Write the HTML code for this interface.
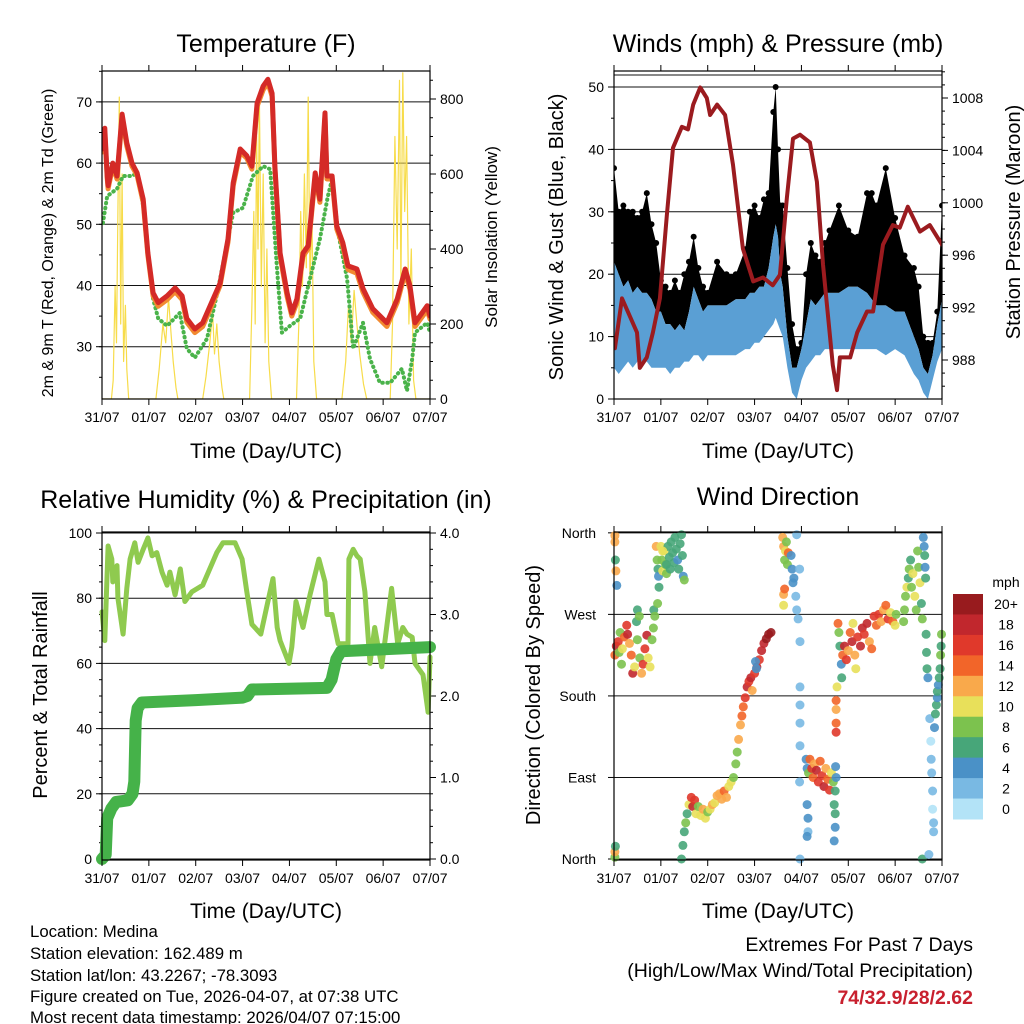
<!DOCTYPE html>
<html><head><meta charset="utf-8"><style>
body{margin:0;background:#fff}
svg{display:block;font-family:"Liberation Sans",Arial,sans-serif}
</style></head><body>
<svg id="c" width="1024" height="1024" viewBox="0 0 1024 1024" xmlns="http://www.w3.org/2000/svg">
<rect width="1024" height="1024" fill="#fff"/>
<text x="266" y="52" font-size="25" text-anchor="middle">Temperature (F)</text>
<text x="778" y="52" font-size="25" text-anchor="middle">Winds (mph) &amp; Pressure (mb)</text>
<text x="266" y="508" font-size="25" text-anchor="middle">Relative Humidity (%) &amp; Precipitation (in)</text>
<text x="778" y="505" font-size="25" text-anchor="middle">Wind Direction</text>
<text x="266" y="458" font-size="21" text-anchor="middle">Time (Day/UTC)</text>
<text x="778" y="458" font-size="21" text-anchor="middle">Time (Day/UTC)</text>
<text x="266" y="918" font-size="21" text-anchor="middle">Time (Day/UTC)</text>
<text x="778" y="918" font-size="21" text-anchor="middle">Time (Day/UTC)</text>
<text transform="translate(53,243) rotate(-90)" font-size="16" text-anchor="middle">2m &amp; 9m T (Red, Orange) &amp; 2m Td (Green)</text>
<text transform="translate(497,237) rotate(-90)" font-size="17" text-anchor="middle">Solar Insolation (Yellow)</text>
<text transform="translate(563,237) rotate(-90)" font-size="20" text-anchor="middle">Sonic Wind &amp; Gust (Blue, Black)</text>
<text transform="translate(1020,222) rotate(-90)" font-size="20" text-anchor="middle">Station Pressure (Maroon)</text>
<text transform="translate(47,695) rotate(-90)" font-size="20" text-anchor="middle">Percent &amp; Total Rainfall</text>
<text transform="translate(540,695) rotate(-90)" font-size="20" text-anchor="middle">Direction (Colored By Speed)</text>
<g font-size="16.8">
<text x="30" y="937">Location: Medina</text>
<text x="30" y="959">Station elevation: 162.489 m</text>
<text x="30" y="981">Station lat/lon: 43.2267; -78.3093</text>
<text x="30" y="1002">Figure created on Tue, 2026-04-07, at 07:38 UTC</text>
<text x="30" y="1023">Most recent data timestamp: 2026/04/07 07:15:00</text>
</g>
<g font-size="19.5" text-anchor="end">
<text x="973" y="951">Extremes For Past 7 Days</text>
<text x="973" y="977">(High/Low/Max Wind/Total Precipitation)</text>
<text x="973" y="1004" fill="#c8202e" font-weight="bold">74/32.9/28/2.62</text>
</g>
</svg>
<script>
const dayLabels=["31/07","01/07","02/07","03/07","04/07","05/07","06/07","07/07"];
const tempTicks=[30,40,50,60,70];
const solarTicks=[0,200,400,600,800];
const windTicks=[0,10,20,30,40,50];
const presTicks=[988,992,996,1000,1004,1008];
const rhTicks=[0,20,40,60,80,100];
const rainTicks=[0,1,2,3,4];
const dirTicks=[0,90,180,270,360];
const dirNames=["North","East","South","West","North"];
const speedLabels=["20+","18","16","14","12","10","8","6","4","2","0"];

const redT=[0,0.06,0.11,0.13,0.23,0.32,0.43,0.53,0.64,0.75,0.88,0.98,1.09,1.2,1.39,1.56,1.71,1.81,1.98,2.15,2.37,2.52,2.69,2.8,2.95,3.09,3.2,3.31,3.44,3.54,3.63,3.69,3.8,3.95,4.05,4.16,4.29,4.4,4.55,4.65,4.76,4.8,4.91,5.01,5.14,5.25,5.44,5.57,5.78,6.08,6.3,6.47,6.57,6.68,6.94,7.0];
const redV=[62.3,65.7,57.9,56.3,60,57.9,68,63.3,60,58.4,54.1,45.3,38.8,37.2,38.3,39.6,38.3,34.6,32.9,33.9,37.8,40.4,47.6,56.8,62.3,61.2,59.5,69.8,72.6,73.7,71.4,59.5,45.3,38.8,35.5,37.8,45.3,46.5,58.4,54.1,68.2,57.9,57.9,49.7,47,43.2,42.7,39.5,36.2,33.9,37.8,42.7,40,33.9,36.7,35];
const orangeV=[61.8,65,57.5,55.8,59.5,57.4,67.5,62.8,59.5,58,53.6,44.9,38.3,36.6,37.7,39,37.7,34,32.3,33.3,37.2,40,47.1,56.3,61.8,60.8,59,69.3,72,73.1,70.9,59,44.8,38.2,35,37.2,44.8,46,57.9,53.6,67.5,57.4,57.4,49.2,46.5,42.6,42,38.9,35.6,33.3,37.2,42.1,39.4,33.3,36,34.5];
const dewT=[0.02,0.11,0.32,0.45,0.64,0.75,0.88,0.98,1.09,1.2,1.39,1.66,1.81,1.98,2.24,2.48,2.67,2.8,3.01,3.22,3.44,3.59,3.73,3.84,4.01,4.23,4.44,4.65,4.82,4.91,5.04,5.23,5.36,5.57,5.72,5.93,6.15,6.4,6.51,6.62,6.68,6.94,7.0];
const dewV=[50.2,54.6,55.8,57.9,57.9,58.4,53,45.3,37.8,34.6,33.4,35.5,29.7,28.2,31.3,39.5,47,51.9,52.7,57.9,59.5,59,43.2,32.3,33.4,34.6,41.1,47.6,54.6,57.4,48.6,41.1,29.7,33.9,28,24.1,24.1,26.4,22.8,28,32.3,33.9,32.3];
const solarT=[0,0.2,0.24,0.28,0.31,0.34,0.37,0.4,0.43,0.46,0.5,0.53,0.57,1.15,1.22,1.3,1.36,1.42,1.47,1.52,1.58,1.62,2.15,2.22,2.3,2.36,2.4,2.45,2.5,2.56,2.6,3.15,3.2,3.24,3.27,3.3,3.33,3.36,3.4,3.44,3.48,3.52,3.56,3.62,4.15,4.2,4.24,4.28,4.32,4.36,4.4,4.44,4.48,4.52,4.58,5.12,5.2,5.26,5.32,5.38,5.44,5.5,5.58,5.65,6.15,6.2,6.25,6.3,6.35,6.38,6.42,6.46,6.5,6.55,6.6,6.65,6.7,7.0];
const solarV=[0,0,50,300,150,500,805,200,600,100,250,80,0,0,80,200,150,270,180,100,30,0,0,60,150,230,120,200,100,30,0,0,250,500,200,700,400,800,300,600,150,400,100,0,0,200,500,300,600,350,805,300,500,100,0,0,100,250,150,290,200,120,40,0,0,200,700,400,850,300,870,500,700,200,400,50,0,0];

const windT=[0,0.1,0.2,0.3,0.4,0.5,0.6,0.7,0.8,0.9,1.0,1.1,1.2,1.3,1.4,1.5,1.6,1.7,1.8,1.9,2.0,2.2,2.4,2.6,2.8,2.9,3.0,3.1,3.2,3.3,3.4,3.45,3.5,3.55,3.6,3.7,3.8,3.9,4.0,4.1,4.2,4.3,4.4,4.5,4.6,4.8,5.0,5.2,5.4,5.5,5.6,5.8,6.0,6.2,6.4,6.5,6.6,6.7,6.8,6.9,7.0];
const windLo=[5,4,5,6,5,6,6,6,5,5,5,5,4,5,5,6,6,7,7,6,7,7,7,7,8,8,9,9,10,11,12,13,12,11,10,5,1,0,3,5,6,7,7,8,8,8,8,8,8,8,8,7,8,7,4,3,1,0,3,6,8];
const windHi=[22,20,18,19,17,18,17,17,16,14,14,12,12,11,12,11,14,18,16,14,15,15,15,16,16,17,17,18,18,21,26,28,26,20,18,10,5,5,8,12,16,15,16,17,17,17,18,18,17,16,15,15,14,14,10,8,5,4,7,12,16];
const gustV=[37,30,31,30,30,29,30,33,28,25,19,18,17,19,17,20,22,26,21,18,17,22,20,20,24,30,31,29,32,33,46,50,40,31,31,21,12,8,9,20,25,23,22,25,27,31,27,26,33,33,31,37,29,23,21,18,10,9,9,14,31];
const presT=[0.02,0.17,0.49,0.55,0.7,0.83,0.98,1.13,1.26,1.45,1.58,1.69,1.84,1.98,2.05,2.2,2.37,2.54,2.75,2.97,3.18,3.39,3.54,3.69,3.82,3.97,4.18,4.33,4.46,4.67,4.76,4.82,5.04,5.19,5.4,5.53,5.74,5.95,6.1,6.27,6.53,6.74,7.0];
const presV=[988.9,992.7,990.1,987.4,988.2,990.1,992.7,999.1,1004.2,1005.8,1005.6,1007.5,1008.8,1008,1006.7,1007.5,1006.7,1002.9,996.5,994,994.3,993.7,994.5,1000.4,1004.9,1005.2,1004.6,1001.6,995.3,987.6,985.7,988.2,988.2,990.1,991.7,991.7,996.8,998.3,998.1,999.7,997.8,998.3,996.8];

const rhT=[0,0.06,0.13,0.21,0.23,0.32,0.34,0.45,0.53,0.6,0.7,0.77,0.88,0.98,1.07,1.17,1.28,1.39,1.45,1.56,1.67,1.77,1.92,2.15,2.45,2.58,2.84,2.99,3.09,3.2,3.39,3.54,3.65,3.74,3.8,3.99,4.05,4.14,4.29,4.44,4.63,4.76,4.8,4.91,5.04,5.25,5.27,5.36,5.44,5.51,5.61,5.72,5.82,5.97,6.18,6.31,6.42,6.51,6.62,6.68,6.85,6.96,7.0];
const rhV=[75.8,67,96,92,85,90,80,69,83,92,97,91,95,98.5,93,94,88,84,88,81,89,79,82,84,94,97,97,92,82,72,69,79,86,71,67,60,65,79,71,81,92,85,75,75,66,66,92,95,93,92,82,60,71,59,83,66,71,69,68,60,56.5,45,62,94,93,90,95];
const rainT=[0,0.08,0.11,0.2,0.3,0.55,0.65,0.69,0.72,0.76,0.85,2.0,3.0,3.1,3.2,4.8,4.9,5.0,5.1,7.0];
const rainV=[0,0.05,0.5,0.62,0.7,0.72,0.8,0.95,1.7,1.85,1.92,1.95,1.98,2.0,2.08,2.1,2.2,2.45,2.55,2.6];

const dirT=[0.02,0.02,0.03,0.04,0.06,0.02,0.02,0.03,
0.02,0.05,0.09,0.11,0.13,0.16,0.18,0.22,0.27,0.29,0.33,0.37,0.4,0.44,0.48,0.5,0.55,0.59,0.62,0.66,0.7,0.73,0.77,0.81,0.84,0.85,0.87,0.5,0.54,
0.9,0.92,0.94,0.95,0.96,0.93,1.0,1.02,1.04,1.07,1.1,1.12,1.15,1.18,1.2,1.22,1.25,1.28,1.3,1.33,1.36,1.38,1.41,1.44,1.46,1.48,1.5,1.04,1.12,
1.44,1.47,1.5,1.53,1.56,1.6,1.65,1.68,1.72,1.75,1.8,1.85,1.9,1.95,2.0,2.05,2.1,2.15,2.2,2.25,2.3,2.35,2.4,2.45,2.5,2.55,2.6,2.63,2.66,2.7,2.73,2.76,2.8,2.84,2.88,2.92,2.95,3.0,3.05,3.1,3.15,3.2,3.25,3.3,3.35,3.02,3.04,
3.6,3.62,3.64,3.66,3.68,3.7,3.72,3.62,3.64,3.62,3.78,3.8,3.82,3.84,3.88,3.9,3.9,3.93,3.96,
3.97,3.97,3.97,3.97,3.96,3.97,3.97,
4.1,4.12,4.15,4.18,4.22,4.25,4.28,4.32,4.36,4.4,4.44,4.48,4.52,4.56,4.6,4.64,4.68,4.72,4.73,4.74,4.7,4.72,4.72,4.7,4.12,4.14,4.14,4.12,4.74,4.74,4.74,4.74,4.76,
4.78,4.8,4.82,4.85,4.86,4.88,4.92,4.96,5.0,5.04,5.08,5.14,5.2,5.26,5.3,5.34,5.4,5.45,5.5,5.55,5.6,5.65,5.7,5.75,5.8,5.85,5.9,5.95,6.0,6.02,5.1,5.16,
6.18,6.2,6.22,6.25,6.28,6.3,6.33,6.35,6.38,6.42,6.45,6.48,6.5,6.53,6.56,6.58,
6.6,6.62,6.63,6.64,6.65,6.66,6.67,6.68,6.7,6.58,6.72,6.74,6.76,6.77,6.78,6.8,6.8,6.82,6.82,6.84,6.86,6.88,6.9,6.9,6.92,6.94,6.96,6.97,6.98,6.99];
const dirD=[357,350,330,318,302,2,8,14,
225,235,240,228,250,215,232,245,258,248,238,225,205,212,262,242,222,205,215,232,247,222,212,242,255,275,268,275,268,
345,330,320,312,300,282,345,330,318,340,325,315,345,333,320,350,338,327,355,342,330,320,348,358,335,312,308,340,325,
0,15,30,40,50,60,68,58,65,50,58,48,55,45,52,55,60,62,70,72,66,75,68,80,85,90,105,118,132,148,158,168,178,190,196,200,186,205,212,220,230,238,243,248,250,218,210,
355,345,330,340,350,325,338,292,298,280,335,320,305,310,290,275,358,265,320,
190,170,150,125,85,240,0,
110,100,95,110,100,90,105,98,85,108,92,80,100,88,76,95,85,75,102,90,60,50,35,20,60,45,30,25,175,165,150,140,190,
260,250,235,215,200,225,235,220,230,250,240,225,245,235,255,248,260,240,232,268,258,270,262,275,280,265,272,262,258,270,260,210,
262,275,290,300,310,320,330,300,315,290,275,340,322,305,282,265,
355,345,335,322,310,248,228,210,200,0,5,155,130,110,95,75,55,30,40,145,160,170,178,185,192,200,210,225,235,248];
const dirS=[12,12,6,12,4,8,12,6,
14,18,16,8,8,8,10,14,16,18,12,14,18,10,6,8,8,12,16,16,18,10,10,8,8,6,8,6,8,
12,8,6,4,6,8,10,8,10,10,8,8,6,6,6,6,6,6,6,6,4,6,6,6,6,4,8,10,6,
6,6,6,8,6,10,16,18,16,10,8,10,12,10,8,10,12,10,12,12,12,14,12,10,10,8,8,8,12,12,14,14,16,18,16,18,12,16,18,16,18,18,20,20,20,4,4,
12,12,8,10,8,8,14,12,14,10,4,4,4,4,2,2,2,2,2,
2,2,2,2,2,2,2,
4,4,8,14,16,14,12,18,16,14,16,18,12,14,16,10,8,6,4,4,6,6,4,4,4,4,2,4,14,12,14,16,10,
14,8,6,4,6,14,18,16,12,14,18,12,16,18,18,16,18,12,14,16,14,16,12,12,14,16,10,14,10,8,10,10,
8,8,8,10,6,8,6,8,10,10,8,8,8,10,6,8,
4,4,6,4,6,6,6,6,4,6,2,2,0,2,2,2,0,2,2,4,6,6,4,6,4,6,6,8,6,8];
const speedColors=["#b3e3f7","#79b9e3","#4a91c7","#47a679","#7cc24e","#e8e05a","#f9a94b","#f26529","#e0392b","#c1272d","#981b1e"];

const NS="http://www.w3.org/2000/svg";
const svg=document.getElementById("c");
function mk(tag,attrs,parent){const e=document.createElementNS(NS,tag);for(const k in attrs)e.setAttribute(k,attrs[k]);(parent||svg).appendChild(e);return e;}
function txt(x,y,s,anchor,size,parent){const e=mk("text",{x:x,y:y,"font-size":size||14,"text-anchor":anchor||"middle"},parent);e.textContent=s;return e;}

function panel(name){
  const g=mk("g",{});
  
  
  return g;
}
function frame(g,x0,y0,x1,y1){
  const r=mk("rect",{x:x0,y:y0,width:x1-x0,height:y1-y0,fill:"none",stroke:"#000","stroke-width":1.2},g);
  
  
  const xs=d=>x0+d*(x1-x0)/7;
  for(let i=0;i<dayLabels.length;i++){
    const X=xs(i);
    mk("line",{x1:X,y1:y1,x2:X,y2:y1+6,stroke:"#000"},g);
    mk("line",{x1:X,y1:y0,x2:X,y2:y0-6,stroke:"#000"},g);
    const t=txt(X,y1+23,dayLabels[i],"middle",14,g);
    
    
  }
  return xs;
}
function leftAxis(g,x0,x1,ticks,sy,fmt,minorStep,lo,hi,grid){
  for(const v of ticks){
    const Y=sy(v);
    if(grid) mk("line",{x1:x0,y1:Y,x2:x1,y2:Y,stroke:"#111","stroke-width":1},g);
    mk("line",{x1:x0,y1:Y,x2:x0-6,y2:Y,stroke:"#000"},g);
    const t=txt(x0-10,Y+5,fmt(v),"end",14,g);
    
    
  }
  if(minorStep) for(let v=lo;v<=hi;v+=minorStep){mk("line",{x1:x0,y1:sy(v),x2:x0-3,y2:sy(v),stroke:"#000"},g);}
}
function rightAxis(g,x1,ticks,sy,fmt,minorStep,lo,hi){
  for(const v of ticks){
    const Y=sy(v);
    mk("line",{x1:x1,y1:Y,x2:x1+6,y2:Y,stroke:"#000"},g);
    const t=txt(x1+10,Y+5,fmt(v),"start",14,g);
    
    
  }
  if(minorStep) for(let v=lo;v<=hi;v+=minorStep){mk("line",{x1:x1,y1:sy(v),x2:x1+3,y2:sy(v),stroke:"#000"},g);}
}
function path(g,T,V,sx,sy,attrs,name){
  let d="";
  for(let i=0;i<T.length;i++) d+=(i?"L":"M")+sx(T[i]).toFixed(1)+","+sy(V[i]).toFixed(1);
  const p=mk("path",Object.assign({d:d,fill:"none","stroke-linejoin":"round","stroke-linecap":"round"},attrs),g);
  
  
  return p;
}

/* Panel 1: temperature */
(function(){
  const x0=102,x1=430,y0=71,y1=399;
  const g=panel("temperature-chart");
  const sx=t=>x0+t*(x1-x0)/7;
  const sT=v=>346.7-(v-30)*6.12;
  const sS=v=>399-v*0.375;
  const cp=mk("clipPath",{id:"cp1"},g);mk("rect",{x:x0,y:y0,width:x1-x0,height:y1-y0},cp);
  leftAxis(g,x0,x1,tempTicks,sT,v=>String(v),5,25,75,true);
  rightAxis(g,x1,solarTicks,sS,v=>String(v),50,0,850);
  const d=mk("g",{"clip-path":"url(#cp1)"},g);
  path(d,solarT,solarV,sx,sS,{stroke:"#f7dc4a","stroke-width":1.2},"solar-insolation-line");
  path(d,dewT,dewV,sx,sT,{stroke:"#4ab34a","stroke-width":4,"stroke-dasharray":"0.5 4.5"},"dewpoint-line");
  path(d,redT,orangeV,sx,sT,{stroke:"#f28a30","stroke-width":5},"temp-9m-line");
  path(d,redT,redV,sx,sT,{stroke:"#d42a27","stroke-width":5},"temp-2m-line");
  frame(g,x0,y0,x1,y1);
})();

/* Panel 2: winds */
(function(){
  const x0=614,x1=942,y0=71,y1=399;
  const g=panel("winds-pressure-chart");
  const sx=t=>x0+t*(x1-x0)/7;
  const sW=v=>399-v*6.24;
  const sP=v=>360-(v-988)*13.1;
  const cp=mk("clipPath",{id:"cp2"},g);mk("rect",{x:x0,y:y0,width:x1-x0,height:y1-y0},cp);
  leftAxis(g,x0,x1,windTicks,sW,v=>String(v),5,0,50,true);
  mk("line",{x1:x0,y1:75,x2:x1,y2:75,stroke:"#111"},g);
  rightAxis(g,x1,presTicks,sP,v=>String(v),1,986,1010);
  const d=mk("g",{"clip-path":"url(#cp2)"},g);
  let pts=[];
  for(let i=0;i<windT.length;i++) pts.push(sx(windT[i]).toFixed(1)+","+sW(gustV[i]).toFixed(1));
  for(let i=windT.length-1;i>=0;i--) pts.push(sx(windT[i]).toFixed(1)+","+sW(windHi[i]).toFixed(1));
  const gb=mk("polygon",{points:pts.join(" "),fill:"#000"},d);
  
  
  for(let i=0;i<windT.length;i++){
    const c=mk("circle",{cx:sx(windT[i]),cy:sW(gustV[i]),r:3,fill:"#000"},d);
    
    
  }
  pts=[];
  for(let i=0;i<windT.length;i++) pts.push(sx(windT[i]).toFixed(1)+","+sW(windHi[i]).toFixed(1));
  for(let i=windT.length-1;i>=0;i--) pts.push(sx(windT[i]).toFixed(1)+","+sW(windLo[i]).toFixed(1));
  const wb=mk("polygon",{points:pts.join(" "),fill:"#5a9fd4"},d);
  
  
  path(d,presT,presV,sx,sP,{stroke:"#9b1b1f","stroke-width":4},"pressure-line");
  frame(g,x0,y0,x1,y1);
})();

/* Panel 3: RH */
(function(){
  const x0=102,x1=430,y0=532,y1=860;
  const g=panel("humidity-precip-chart");
  const sx=t=>x0+t*(x1-x0)/7;
  const sR=v=>859-v*3.26;
  const sN=v=>859-v*81.5;
  const cp=mk("clipPath",{id:"cp3"},g);mk("rect",{x:x0-6,y:y0,width:x1-x0+12,height:y1-y0+6},cp);
  leftAxis(g,x0,x1,rhTicks,sR,v=>String(v),5,0,100,true);
  rightAxis(g,x1,rainTicks,sN,v=>v.toFixed(1),0.2,0,4);
  const d=mk("g",{"clip-path":"url(#cp3)"},g);
  path(d,rhT,rhV,sx,sR,{stroke:"#8fca4f","stroke-width":5},"relative-humidity-line");
  path(d,rainT,rainV,sx,sN,{stroke:"#45b249","stroke-width":12},"total-rainfall-line");
  frame(g,x0,y0,x1,y1);
})();

/* Panel 4: wind direction */
(function(){
  const x0=614,x1=942,y0=532,y1=860;
  const g=panel("wind-direction-chart");
  const sx=t=>x0+t*(x1-x0)/7;
  const sD=v=>859-v*0.906;
  for(let i=0;i<dirTicks.length;i++){
    const Y=sD(dirTicks[i]);
    mk("line",{x1:x0,y1:Y,x2:x1,y2:Y,stroke:"#111"},g);
    mk("line",{x1:x0,y1:Y,x2:x0-6,y2:Y,stroke:"#000"},g);
    const t=txt(x0-18,Y+5,dirNames[i],"end",14,g);
    
    
  }
  for(let i=0;i<dirT.length;i++){
    const ci=Math.min(10,Math.round(dirS[i]/2));
    const c=mk("circle",{cx:sx(dirT[i]).toFixed(1),cy:sD(dirD[i]).toFixed(1),r:4.5,fill:speedColors[ci],"fill-opacity":0.9},g);
    
    
  }
  frame(g,x0,y0,x1,y1);
  const lg=mk("g",{},g);
  
  
  const h=22.5/1.1;
  for(let i=0;i<speedLabels.length;i++){
    const Y=594+i*h;
    mk("rect",{x:953,y:Y,width:30,height:h+0.5,fill:speedColors[10-i]},lg);
    const t=txt(1006,Y+h/2+5,speedLabels[i],"middle",14,lg);
    
    
  }
  const u=txt(1006,587,"mph","middle",14,lg);
  
  
})();
</script>
</body></html>
